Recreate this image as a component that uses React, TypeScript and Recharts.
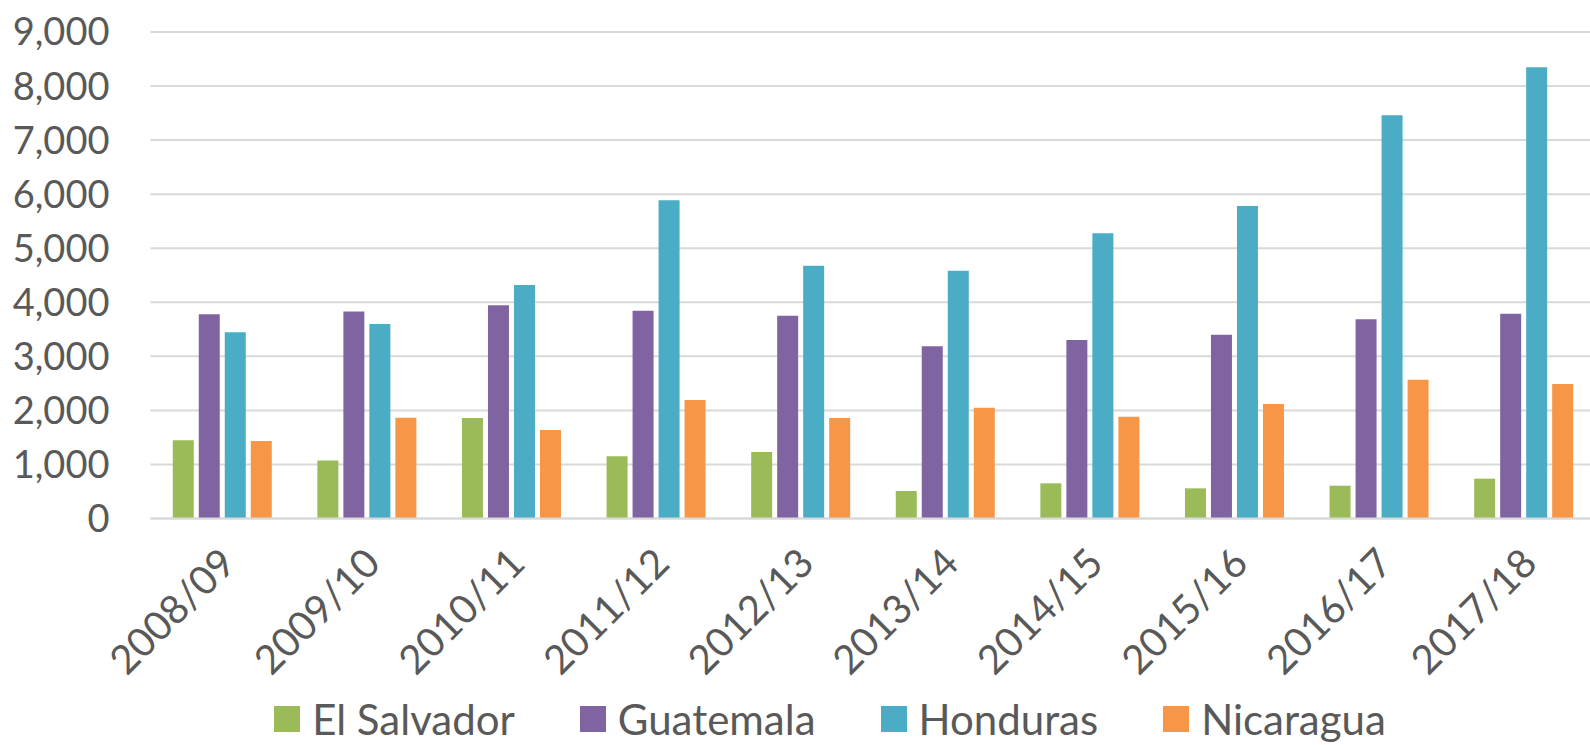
// Central America bar chart: four countries by season, 2008/09 to 2017/18.

import { Bar, BarChart, CartesianGrid, Legend, XAxis, YAxis } from "recharts";

const seasons = [
  "2008/09", "2009/10", "2010/11", "2011/12", "2012/13",
  "2013/14", "2014/15", "2015/16", "2016/17", "2017/18",
];
const elSalvador = [1447, 1071, 1859, 1150, 1230, 509, 651, 558, 607, 737];
const guatemala = [3778, 3830, 3944, 3845, 3753, 3186, 3303, 3401, 3685, 3790];
const honduras = [3447, 3600, 4320, 5887, 4678, 4585, 5277, 5782, 7460, 8348];
const nicaragua = [1434, 1865, 1637, 2192, 1859, 2050, 1884, 2118, 2568, 2488];
const yTicks = [0, 1000, 2000, 3000, 4000, 5000, 6000, 7000, 8000, 9000];

const series = [
  { key: "elSalvador", name: "El Salvador", color: "#9BBB59" },
  { key: "guatemala", name: "Guatemala", color: "#8064A2" },
  { key: "honduras", name: "Honduras", color: "#4BACC6" },
  { key: "nicaragua", name: "Nicaragua", color: "#F79646" },
];

const data = seasons.map((s, i) => ({
  season: s,
  elSalvador: elSalvador[i],
  guatemala: guatemala[i],
  honduras: honduras[i],
  nicaragua: nicaragua[i],
}));

const font = "'Gill Sans', 'Gill Sans MT', Lato, sans-serif";
const textColor = "#595959";
const gridColor = "#d9d9d9";

function LegendRow() {
  return (
    <div
      style={{
        height: 60,
        paddingTop: 8,
        paddingLeft: 60,
        boxSizing: "border-box",
        display: "flex",
        justifyContent: "center",
        alignItems: "center",
        fontFamily: font,
        fontSize: 42,
        color: textColor,
      }}
    >
      {series.map((s, i) => (
        <div key={s.key} style={{ display: "flex", alignItems: "center", marginLeft: i ? 65 : 0 }}>
          <span style={{ width: 26, height: 26, background: s.color, marginRight: 12, display: "inline-block" }} />
          <span style={{ lineHeight: "50px" }}>{s.name}</span>
        </div>
      ))}
    </div>
  );
}

export default function App() {
  return (
    <div
      style={{
        position: "absolute",
        left: 0,
        top: 0,
        width: 1590,
        height: 745,
        overflow: "hidden",
        background: "#fff",
      }}
    >
      <BarChart
        width={1600}
        height={745}
        data={data}
        margin={{ top: 32, right: 3.5, left: 0, bottom: 0 }}
        barCategoryGap="15.4%"
        barGap={5}
      >
        <CartesianGrid stroke={gridColor} strokeWidth={2} vertical={false} />
        <XAxis
          dataKey="season"
          interval={0}
          height={166.5}
          axisLine={{ stroke: gridColor, strokeWidth: 2 }}
          tickLine={false}
          tickMargin={21}
          angle={-45}
          textAnchor="end"
          tick={{ fill: textColor, fontSize: 40, fontFamily: font, dx: -5 }}
        />
        <YAxis
          width={150.5}
          domain={[0, 9000]}
          ticks={yTicks}
          axisLine={false}
          tickLine={false}
          tickMargin={35}
          tick={{ fill: textColor, fontSize: 38, fontFamily: font }}
          tickFormatter={(v: number) => v.toLocaleString("en-US")}
        />
        <Legend verticalAlign="bottom" content={() => <LegendRow />} wrapperStyle={{ left: 0, width: 1600 }} />
        {series.map((s) => (
          <Bar key={s.key} dataKey={s.key} name={s.name} fill={s.color} isAnimationActive={false} />
        ))}
      </BarChart>
    </div>
  );
}
